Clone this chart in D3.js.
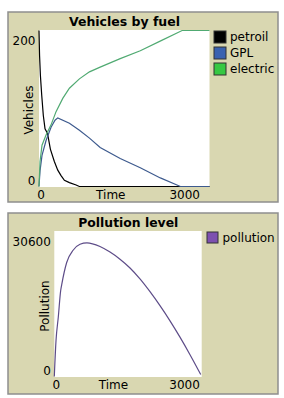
<!DOCTYPE html>
<html><head><meta charset="utf-8">
<script src="https://cdn.jsdelivr.net/npm/d3@7"></script>
<style>
html,body{margin:0;padding:0;background:#fff;}
svg{display:block;font-family:"DejaVu Sans",sans-serif;}
</style></head><body>
<svg id="c" width="284" height="398"></svg>
<script>
// ---- data ----
const timeDomain = [0, 3000];
const vehiclesDomain = [0, 200];
const pollutionDomain = [0, 30600];
const fuelSeries = ["petroil", "GPL", "electric"];
const petroilT = [0, 10, 25, 48, 76, 106, 150, 200, 270, 330, 388, 447, 535, 653, 710, 3000];
const petroilV = [200, 168, 142, 117, 91, 74, 68, 48, 32, 21, 14, 8, 5, 2, 0, 0];
const gplT = [0, 18, 53, 124, 212, 282, 330, 535, 711, 888, 1076, 1429, 1782, 2135, 2488, 3000];
const gplV = [0, 20, 40, 59, 76, 85, 88, 81, 72, 62, 50, 36, 24, 11, 0, 0];
const electricT = [0, 18, 53, 124, 212, 300, 418, 535, 711, 888, 1076, 1429, 1782, 2150, 2518, 3000];
const electricV = [0, 32, 53, 66, 79, 96, 113, 126, 138, 147, 153, 164, 174, 187, 200, 200];
const pollutionT = [0, 35, 81, 130, 151, 252, 387, 523, 665, 930, 1134, 1337, 1541, 1744, 1948, 2151, 2355, 2558, 2762, 2980];
const pollutionV = [0, 7600, 12500, 18150, 19400, 24060, 26700, 27920, 28215, 27430, 26250, 24750, 22900, 20600, 17900, 14950, 11750, 8300, 4600, 420];

const svg = d3.select("#c");
const BG = "#d9d7b1";

function panel(o) {
  const g = svg.append("g");
  g.append("rect").attr("x", o.box[0]).attr("y", o.box[1])
    .attr("width", o.box[2]).attr("height", o.box[3])
    .attr("fill", BG).attr("stroke", "#8e8e8e").attr("stroke-width", 1.5);
  const [px0, py0, px1, py1] = o.plot;
  g.append("rect").attr("x", px0).attr("y", py0).attr("width", px1 - px0).attr("height", py1 - py0).attr("fill", "#fff");
  const x = d3.scaleLinear().domain(timeDomain).range([px0, px1]);
  const y = d3.scaleLinear().domain(o.yDomain).range([py1 - 0.5, py0 + 0.5]);

  // title
  g.append("text").attr("x", o.title[1]).attr("y", o.title[2]).attr("text-anchor", "middle")
    .attr("font-size", 12).attr("font-weight", "bold")
    .attr("textLength", o.title[3]).attr("lengthAdjust", "spacingAndGlyphs").text(o.title[0]);

  // y axis (labels only)
  const ya = g.append("g").attr("transform", `translate(${px0 - 3.5},0)`)
    .call(d3.axisLeft(y).tickValues(o.yDomain).tickSize(0).tickPadding(0).tickFormat(d3.format("d")));
  ya.select(".domain").remove();
  ya.selectAll("text").attr("font-size", 12).attr("font-family", "DejaVu Sans").attr("fill", "#000")
    .attr("dy", null).attr("dominant-baseline", "central")
    .attr("y", d => d === o.yDomain[1] ? 10 : -6.5);

  // x axis (labels only)
  const xa = g.append("g").attr("transform", `translate(0,${o.xLabelY})`)
    .call(d3.axisBottom(x).tickValues(timeDomain).tickSize(0).tickPadding(0).tickFormat(d3.format("d")));
  xa.select(".domain").remove();
  xa.selectAll("text").attr("font-size", 12).attr("font-family", "DejaVu Sans").attr("fill", "#000")
    .attr("dy", null).attr("dominant-baseline", "central")
    .attr("text-anchor", d => d === 0 ? "middle" : "end")
    .attr("x", d => d === 0 ? 1.5 : o.xMaxShift);

  g.append("text").attr("x", o.xTitleX).attr("y", o.xLabelY).attr("dominant-baseline", "central")
    .attr("text-anchor", "middle").attr("font-size", 12).text("Time");
  g.append("text").attr("transform", `translate(${o.yTitle[1]},${o.yTitle[2]}) rotate(-90)`)
    .attr("dominant-baseline", "central").attr("text-anchor", "middle").attr("font-size", 12).text(o.yTitle[0]);

  const line = d3.line().x(d => x(d[0])).y(d => y(d[1])).curve(o.curve || d3.curveLinear);
  o.series.forEach(s => {
    g.append("path").datum(d3.zip(s.t, s.v)).attr("d", line)
      .attr("fill", "none").attr("stroke", s.stroke).attr("stroke-width", 1.2);
  });
  o.series.forEach((s, i) => {
    const ly = o.legend[1] + i * o.legend[3];
    g.append("rect").attr("x", o.legend[0]).attr("y", ly).attr("width", o.legend[2]).attr("height", o.legend[2])
      .attr("fill", s.swatch).attr("stroke", "#333").attr("stroke-width", 1);
    g.append("text").attr("x", o.legend[4]).attr("y", ly + o.legend[2] / 2).attr("dominant-baseline", "central")
      .attr("font-size", 12).text(s.name);
  });
}

panel({
  box: [8, 12, 270, 190],
  plot: [39, 30, 209.5, 187],
  yDomain: vehiclesDomain,
  title: ["Vehicles by fuel", 124.5, 26, 111],
  xLabelY: 194.5, xMaxShift: -10, xTitleX: 110.8,
  yTitle: ["Vehicles", 29, 110],
  legend: [214, 31, 12, 16, 230],
  series: [
    {name: fuelSeries[0], t: petroilT, v: petroilV, stroke: "#000", swatch: "#000"},
    {name: fuelSeries[1], t: gplT, v: gplV, stroke: "#3d5a8e", swatch: "#3a62b0"},
    {name: fuelSeries[2], t: electricT, v: electricV, stroke: "#50aa72", swatch: "#36c843"}
  ]
});

panel({
  box: [8, 213, 270, 181],
  plot: [54.3, 231, 201.7, 377],
  yDomain: pollutionDomain,
  title: ["Pollution level", 128.3, 227, 100],
  xLabelY: 385, xMaxShift: -2.4, xTitleX: 113.5,
  yTitle: ["Pollution", 45.3, 306],
  legend: [207, 232, 11, 16, 222.5],
  curve: d3.curveMonotoneX,
  series: [
    {name: "pollution", t: pollutionT, v: pollutionV, stroke: "#5d4c88", swatch: "#7d50b0"}
  ]
});
</script>
</body></html>
